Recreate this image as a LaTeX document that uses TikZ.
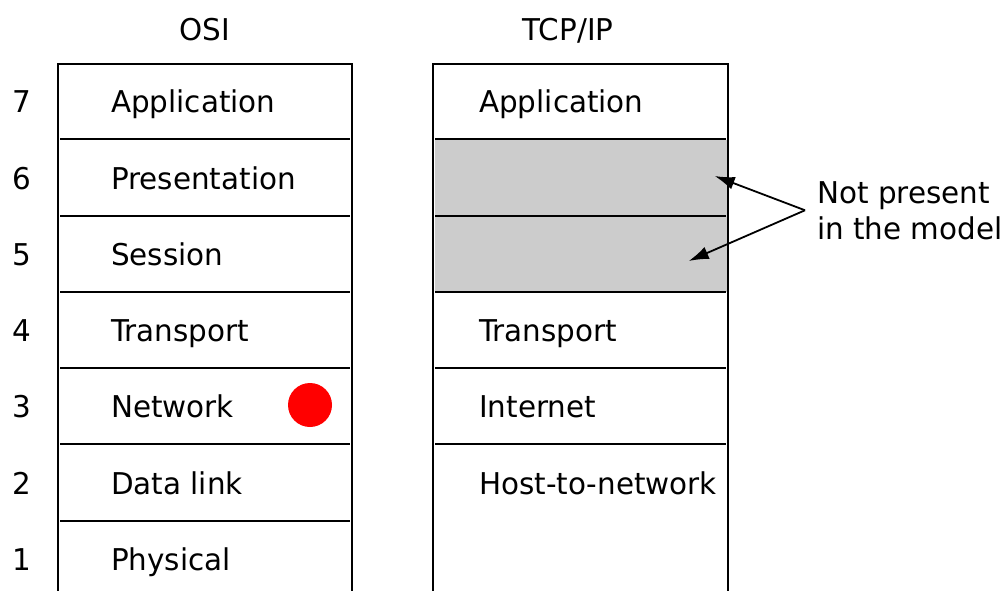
\documentclass[tikz,border=0pt]{standalone}
\usepackage{fontspec}
\setmainfont[FakeStretch=0.98]{DejaVu Sans}
\usetikzlibrary{arrows.meta}

\begin{document}
\begin{tikzpicture}[x=1pt, y=-1pt,
    txt/.style={inner sep=0pt, font=\fontsize{30}{36}\selectfont},
    layer/.style={txt, anchor=base west},
    num/.style={txt, anchor=base},
    rule/.style={line width=2.1pt},
    gap/.style={fill=black!20, draw=none, minimum width=292pt, minimum height=76pt, inner sep=0pt},
    dot/.style={circle, fill=red, draw=none, minimum size=44pt, inner sep=0pt},
    note/.style={line width=1.8pt, -{Latex[length=20pt, width=13pt]}}]
    \useasboundingbox (0,0) rectangle (1003,591);

    % titles
    \node[num] (osi) at (205,41) {OSI};
    \node[num] (tcpip) at (568,41) {TCP/IP};

    % grey rows first
    \node[gap] (tcp6) at (580.5,177.5) {};
    \node[gap] (tcp5) at (580.5,254) {};

    % OSI stack
    \foreach \n/\name/\y in {7/Application/101.5, 6/Presentation/177.5, 5/Session/254,
        4/Transport/330, 3/Network/406, 2/Data link/482.5, 1/Physical/559}{
      \node[num] (n\n) at (22,\y+11.5) {\n};
      \node[layer] (osi\n) at (111,\y+11.5) {\name};
    }
    \draw[rule] (58,600) -- (58,64) -- (352,64) -- (352,600);
    \foreach \y in {139,216,292,368,444,521}
      \draw[rule] (60,\y) -- (350,\y);

    % TCP/IP stack
    \node[layer] (tcp7) at (479,101.5+11.5) {Application};
    \node[layer] (tcp4) at (479,330+11.5) {Transport};
    \node[layer] (tcp3) at (479,406+11.5) {Internet};
    \node[layer] (tcp2) at (479,482.5+11.5) {Host-to-network};
    \draw[rule] (433,600) -- (433,64) -- (728,64) -- (728,600);
    \foreach \y in {139,216,292,368,444}
      \draw[rule] (435,\y) -- (726,\y);

    \node[dot] (mark) at (310,405) {};

    % missing layers
    \node[txt, anchor=base west, align=left] (missing) at (817,239) {Not present\\in the model};
    \coordinate (fork) at ([xshift=-12pt]missing.west);
    \coordinate (tip6) at ([xshift=-12pt,yshift=1.5pt]tcp6.east);
    \coordinate (tip5) at ([xshift=-38pt,yshift=-7pt]tcp5.east);
    \draw[note] (fork) -- (tip6);
    \draw[note] (fork) -- (tip5);
\end{tikzpicture}
\end{document}
